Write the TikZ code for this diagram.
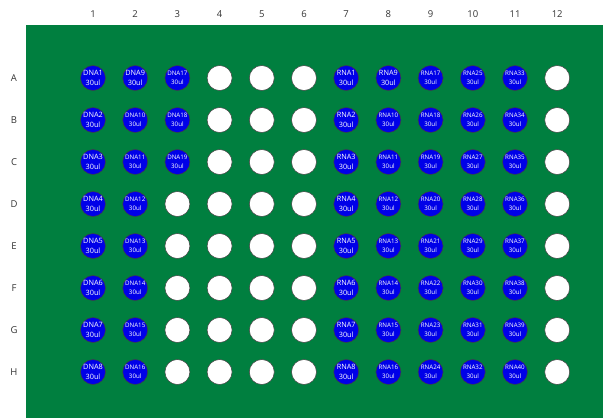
\documentclass[tikz,border=0pt]{standalone}
\usepackage{fontspec}
\setmainfont{Open Sans}
\definecolor{plate}{HTML}{007F3F}
\definecolor{wellblue}{HTML}{0000E8}
\definecolor{labgray}{HTML}{333333}
\begin{document}
\begin{tikzpicture}[x=1pt,y=-1pt,
  wellbase/.style={circle,minimum size=25pt,inner sep=0pt,draw=black!75,line width=0.5pt},
  emptywell/.style={wellbase,fill=white},
  smpA/.style={wellbase,fill=wellblue,text=white,align=center,font=\fontsize{7.3}{10}\selectfont},
  smpB/.style={wellbase,fill=wellblue,text=white,align=center,font=\fontsize{6.2}{9.5}\selectfont},
  collabel/.style={text=labgray,font=\fontsize{9.5}{10}\selectfont,inner sep=0pt},
  rowlabel/.style={text=labgray,font=\fontsize{9.5}{10}\selectfont,inner sep=0pt}]
\path[use as bounding box] (0,0) rectangle (603,418);
\fill[plate] (26,25) rectangle (603,418);
\foreach \c in {1,...,12} \node[collabel] (col\c) at ({93+(\c-1)*42.2},14) {\c};
\foreach \r [count=\i] in {A,B,C,D,E,F,G,H} \node[rowlabel] (row\r) at (14,{78+(\i-1)*42}) {\r};
\foreach \c in {1,...,12}{
  \foreach \r [count=\i] in {A,B,C,D,E,F,G,H}{
    \pgfmathtruncatemacro\kind{(\c<3 || (\c==3 && \i<4)) ? 1 : ((\c>6 && \c<12) ? 2 : 0)}
    \pgfmathtruncatemacro\num{\kind==1 ? (\c-1)*8+\i : (\c-7)*8+\i}
    \ifnum\num>9\def\st{smpB}\else\def\st{smpA}\fi
    \ifcase\kind
      \node[emptywell] (w\r\c) at ({93+(\c-1)*42.2},{78+(\i-1)*42}) {};
    \or
      \node[\st] (w\r\c) at ({93+(\c-1)*42.2},{78+(\i-1)*42}) {DNA\num\\30ul};
    \or
      \node[\st] (w\r\c) at ({93+(\c-1)*42.2},{78+(\i-1)*42}) {RNA\num\\30ul};
    \fi
  }
}
\end{tikzpicture}
\end{document}
